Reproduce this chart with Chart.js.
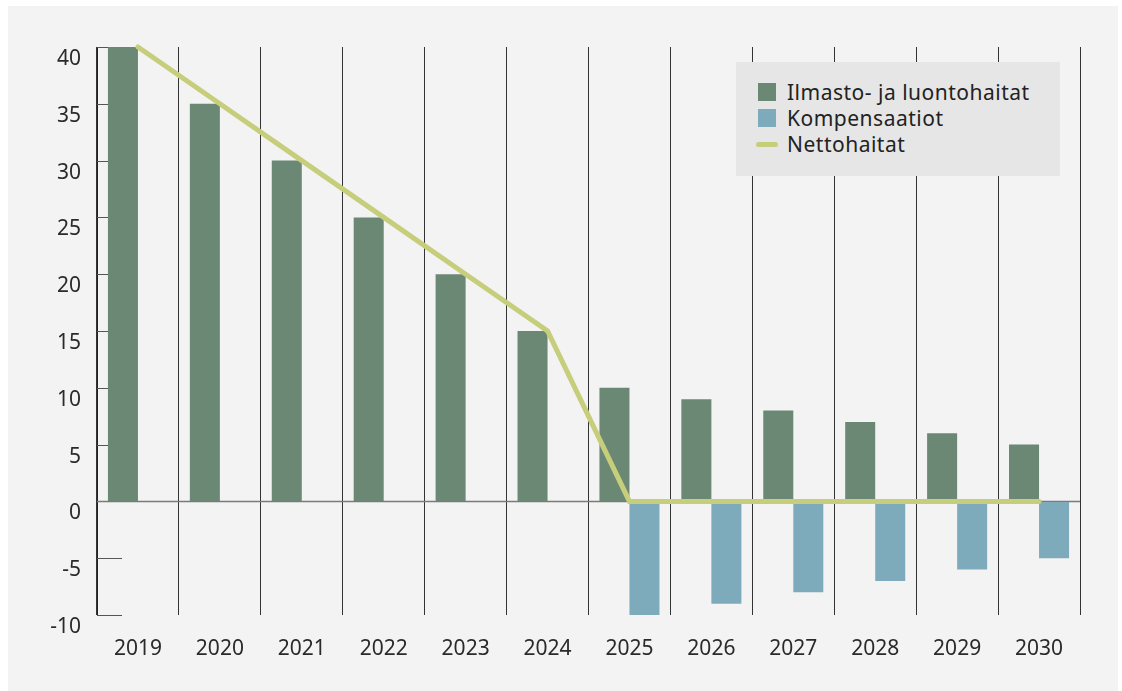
<!DOCTYPE html>
<html>
<head>
<meta charset="utf-8">
<script src="https://cdn.jsdelivr.net/npm/chart.js@4.4.1/dist/chart.umd.min.js"></script>
<style>
  html, body { margin: 0; padding: 0; background: #fff; }
  #wrap { position: relative; width: 1122px; height: 691px; }
  #panel { position: absolute; left: 8px; top: 6px; width: 1110px; height: 685px; background: #f3f3f3; }
  #chart { position: absolute; left: 0; top: 0; }
  #legend {
    position: absolute; left: 736px; top: 62px; width: 324px; height: 114px;
    background: #e6e6e6; box-sizing: border-box; padding: 17px 0 0 20px;
    font-family: "Noto Sans", sans-serif; font-size: 21px; letter-spacing: 0.5px; color: #222;
  }
  #legend ul { list-style: none; margin: 0; padding: 0; }
  #legend li { display: flex; align-items: center; height: 26px; white-space: nowrap; }
  #legend .merkki { width: 22px; height: 26px; display: flex; align-items: center; justify-content: center; margin-right: 9px; }
  #legend .laatikko { width: 18px; height: 18px; }
  #legend .viiva { width: 22px; height: 5px; border-radius: 3px; }
</style>
</head>
<body>
<div id="wrap">
  <div id="panel"></div>
  <canvas id="chart" width="1122" height="691"></canvas>
  <div id="legend"></div>
</div>
<script>
const vuodet = ["2019", "2020", "2021", "2022", "2023", "2024", "2025", "2026", "2027", "2028", "2029", "2030"];
const haitat = [40, 35, 30, 25, 20, 15, 10, 9, 8, 7, 6, 5];
const kompensaatiot = [0, 0, 0, 0, 0, 0, -10, -9, -8, -7, -6, -5];
const nettohaitat = [40, 35, 30, 25, 20, 15, 0, 0, 0, 0, 0, 0];
const yMin = -10;
const yMax = 40;
const yAskel = 5;

Chart.defaults.font.family = '"Noto Sans", sans-serif';
Chart.defaults.font.size = 20;
Chart.defaults.color = "#2a2a2a";

// lyhyet tikkiviivat y-akselille ja nollaviiva koko leveydelle
const akseliViivat = {
  id: "akseliViivat",
  beforeDatasetsDraw(chart) {
    const { ctx, chartArea, scales } = chart;
    const y = scales.y;
    ctx.save();
    y.ticks.forEach((t) => {
      const py = Math.round(y.getPixelForValue(t.value)) + 0.5;
      ctx.beginPath();
      if (t.value === 0) {
        ctx.strokeStyle = "#7a7a7a";
        ctx.lineWidth = 1.5;
        ctx.moveTo(chartArea.left, py);
        ctx.lineTo(chartArea.right, py);
      } else {
        ctx.strokeStyle = "#555";
        ctx.lineWidth = 1;
        ctx.moveTo(chartArea.left, py);
        ctx.lineTo(chartArea.left + 25, py);
      }
      ctx.stroke();
    });
    ctx.restore();
  },
};

const kaavio = new Chart(document.getElementById("chart"), {
  type: "bar",
  data: {
    labels: vuodet,
    datasets: [
      {
        label: "Ilmasto- ja luontohaitat",
        data: haitat,
        backgroundColor: "#6b8875",
        order: 1,
      },
      {
        label: "Kompensaatiot",
        data: kompensaatiot,
        backgroundColor: "#7eabbb",
        order: 1,
      },
      {
        type: "line",
        label: "Nettohaitat",
        data: nettohaitat,
        borderColor: "#c6cd7b",
        backgroundColor: "#c6cd7b",
        borderWidth: 5,
        pointRadius: 0,
        tension: 0,
        borderCapStyle: "round",
        borderJoinStyle: "miter",
        clip: false,
        order: 0,
      },
    ],
  },
  options: {
    responsive: false,
    animation: false,
    layout: { padding: { left: 0, right: 42, top: 47, bottom: 0 } },
    datasets: {
      bar: { categoryPercentage: 0.733, barPercentage: 1 },
    },
    plugins: {
      legend: { display: false },
      tooltip: { enabled: false },
    },
    scales: {
      x: {
        grid: { color: "#333", lineWidth: 1, drawTicks: false, offset: true },
        border: { display: false },
        ticks: { padding: 21, font: { size: 21 } },
        afterFit: (s) => { s.height = 76; },
      },
      y: {
        min: yMin,
        max: yMax,
        grid: { drawOnChartArea: false, drawTicks: false },
        border: { display: true, color: "#222", width: 1 },
        ticks: { stepSize: yAskel, padding: 16, labelOffset: 12, font: { size: 21 } },
        afterFit: (s) => { s.width = 97; },
      },
    },
  },
  plugins: [akseliViivat],
});

// selite HTML:nä
const ul = document.createElement("ul");
kaavio.data.datasets.forEach((ds) => {
  const li = document.createElement("li");
  const m = document.createElement("span");
  m.className = "merkki";
  const s = document.createElement("span");
  s.className = ds.type === "line" ? "viiva" : "laatikko";
  s.style.background = ds.backgroundColor;
  m.appendChild(s);
  li.appendChild(m);
  li.appendChild(document.createTextNode(ds.label));
  ul.appendChild(li);
});
document.getElementById("legend").appendChild(ul);
</script>
</body>
</html>
